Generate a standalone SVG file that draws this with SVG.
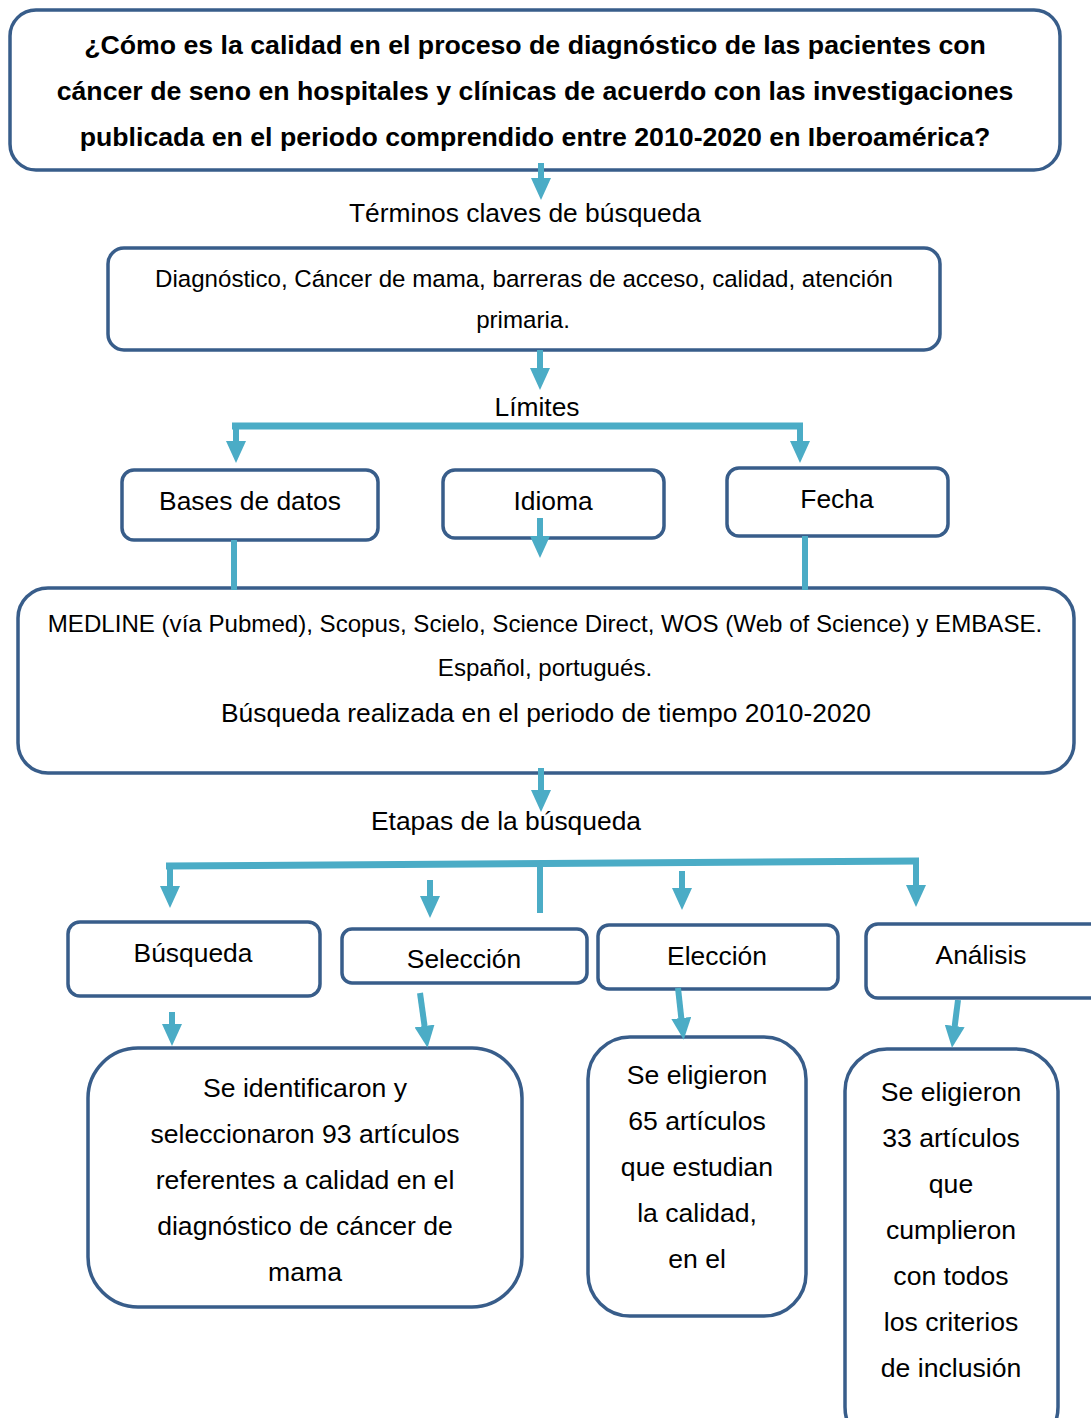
<svg xmlns="http://www.w3.org/2000/svg" width="1091" height="1418" viewBox="0 0 1091 1418">
<defs>
<marker id="ah" markerUnits="userSpaceOnUse" markerWidth="22" markerHeight="20" viewBox="0 0 22 20" refX="1" refY="10" orient="auto">
<path d="M0,0 L22,10 L0,20 z" fill="#4BACC6"/>
</marker>
<style>
.box{fill:#fff;stroke:#385D8A;stroke-width:3.5}
.t{font-family:"Liberation Sans",Arial,sans-serif;font-size:26.6px;fill:#000;text-anchor:middle}
.b{font-weight:bold;font-size:26.7px}
.s22{font-size:24.1px}
.s24{font-size:26.4px}
.c line{stroke:#4BACC6;stroke-width:6;fill:none}
.c line.a{marker-end:url(#ah)}
.c line.bar{stroke-width:7}
</style>
</defs>
<rect width="1091" height="1418" fill="#fff"/>

<g id="question">
<rect class="box" x="10" y="10" width="1050" height="160" rx="26"/>
<text class="t b" x="535" y="54">¿Cómo es la calidad en el proceso de diagnóstico de las pacientes con</text>
<text class="t b" x="535" y="100">cáncer de seno en hospitales y clínicas de acuerdo con las investigaciones</text>
<text class="t b" x="535" y="146">publicada en el periodo comprendido entre 2010-2020 en Iberoamérica?</text>
</g>

<g id="label-terminos">
<text class="t s24" x="525" y="222">Términos claves de búsqueda</text>
</g>

<g id="terms">
<rect class="box" x="108" y="248" width="832" height="102" rx="16"/>
<text class="t s22" x="524" y="287">Diagnóstico, Cáncer de mama, barreras de acceso, calidad, atención</text>
<text class="t s22" x="523" y="328">primaria.</text>
</g>

<g id="label-limites">
<text class="t s24" x="537" y="416">Límites</text>
</g>

<g id="bases">
<rect class="box" x="122" y="470" width="256" height="70" rx="12"/>
<text class="t s24" x="250" y="510">Bases de datos</text>
</g>
<g id="idioma">
<rect class="box" x="443" y="470" width="221" height="68" rx="12"/>
<text class="t s24" x="553" y="510">Idioma</text>
</g>
<g id="fecha">
<rect class="box" x="727" y="468" width="221" height="68" rx="12"/>
<text class="t s24" x="837" y="508">Fecha</text>
</g>

<g id="details">
<rect class="box" x="18" y="588" width="1056" height="185" rx="30"/>
<text class="t s22" x="545" y="632">MEDLINE (vía Pubmed), Scopus, Scielo, Science Direct, WOS (Web of Science) y EMBASE.</text>
<text class="t s22" x="545" y="676">Español, portugués.</text>
<text class="t s24" x="546" y="722">Búsqueda realizada en el periodo de tiempo 2010-2020</text>
</g>

<g id="label-etapas">
<text class="t s24" x="506" y="830">Etapas de la búsqueda</text>
</g>

<g id="busqueda">
<rect class="box" x="68" y="922" width="252" height="74" rx="12"/>
<text class="t s24" x="193" y="962">Búsqueda</text>
</g>
<g id="seleccion">
<rect class="box" x="342" y="929" width="245" height="54" rx="10"/>
<text class="t s24" x="464" y="968">Selección</text>
</g>
<g id="eleccion">
<rect class="box" x="598" y="925" width="240" height="64" rx="11"/>
<text class="t s24" x="717" y="965">Elección</text>
</g>
<g id="analisis">
<rect class="box" x="866" y="924" width="240" height="74" rx="12"/>
<text class="t s24" x="981" y="964">Análisis</text>
</g>

<g id="result-93">
<rect class="box" x="88" y="1048" width="434" height="259" rx="50"/>
<text class="t" x="305" y="1097">Se identificaron y</text>
<text class="t" x="305" y="1143">seleccionaron 93 artículos</text>
<text class="t" x="305" y="1189">referentes a calidad en el</text>
<text class="t" x="305" y="1235">diagnóstico de cáncer de</text>
<text class="t" x="305" y="1281">mama</text>
</g>
<g id="result-65">
<rect class="box" x="588" y="1037" width="218" height="279" rx="42"/>
<text class="t" x="697" y="1084">Se eligieron</text>
<text class="t" x="697" y="1130">65 artículos</text>
<text class="t" x="697" y="1176">que estudian</text>
<text class="t" x="697" y="1222">la calidad,</text>
<text class="t" x="697" y="1268">en el</text>
</g>
<g id="result-33">
<rect class="box" x="845" y="1049" width="213" height="400" rx="42"/>
<text class="t" x="951" y="1101">Se eligieron</text>
<text class="t" x="951" y="1147">33 artículos</text>
<text class="t" x="951" y="1193">que</text>
<text class="t" x="951" y="1239">cumplieron</text>
<text class="t" x="951" y="1285">con todos</text>
<text class="t" x="951" y="1331">los criterios</text>
<text class="t" x="951" y="1377">de inclusión</text>
</g>

<g id="connectors" class="c">
<line class="a" x1="541" y1="163" x2="541" y2="179"/>
<line class="a" x1="540" y1="350" x2="540" y2="369"/>
<line class="bar" x1="232" y1="426" x2="803" y2="426"/>
<line class="a" x1="236" y1="426" x2="236" y2="442"/>
<line class="a" x1="800" y1="426" x2="800" y2="442"/>
<line class="a" x1="540" y1="518" x2="540" y2="537"/>
<line x1="234" y1="540" x2="234" y2="590"/>
<line x1="805" y1="536" x2="805" y2="590"/>
<line class="a" x1="541" y1="768" x2="541" y2="791"/>
<line class="bar" x1="166" y1="866" x2="919" y2="861"/>
<line class="a" x1="170" y1="866" x2="170" y2="887"/>
<line x1="540" y1="866" x2="540" y2="913"/>
<line class="a" x1="430" y1="880" x2="430" y2="897"/>
<line class="a" x1="682" y1="871" x2="682" y2="889"/>
<line class="a" x1="916" y1="861" x2="916" y2="886"/>
<line class="a" x1="172" y1="1012" x2="172" y2="1025"/>
<line class="a" x1="420" y1="993" x2="424.7" y2="1027"/>
<line class="a" x1="678" y1="988" x2="681.4" y2="1019"/>
<line class="a" x1="958" y1="1000" x2="954.6" y2="1027"/>
</g>
</svg>
